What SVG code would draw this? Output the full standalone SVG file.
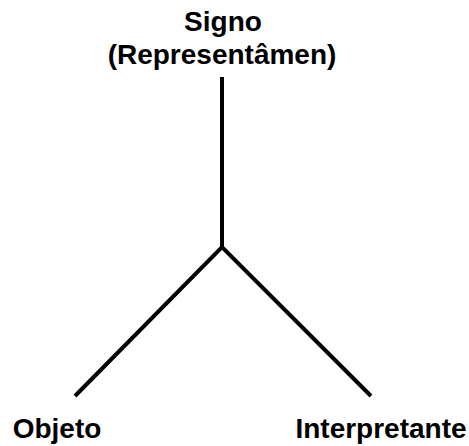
<svg xmlns="http://www.w3.org/2000/svg" width="469" height="446" viewBox="0 0 469 446">
<style>
.lbl{font-family:"Liberation Sans",Arial,sans-serif;font-weight:bold;font-size:28px;fill:#000;text-anchor:middle}
.ln{stroke:#000;stroke-width:4;fill:none;stroke-linecap:butt}
</style>
<rect width="469" height="446" fill="#fff"/>
<g id="connectors">
<line class="ln" x1="222" y1="77" x2="222" y2="247"/>
<polyline class="ln" points="75,396 222,247 371,396"/>
</g>
<g id="signo">
<text class="lbl" x="223" y="31">Signo</text>
<text class="lbl" x="222" y="64">(Representâmen)</text>
</g>
<g id="objeto">
<text class="lbl" x="57" y="438">Objeto</text>
</g>
<g id="interpretante">
<text class="lbl" x="381" y="438">Interpretante</text>
</g>
</svg>
